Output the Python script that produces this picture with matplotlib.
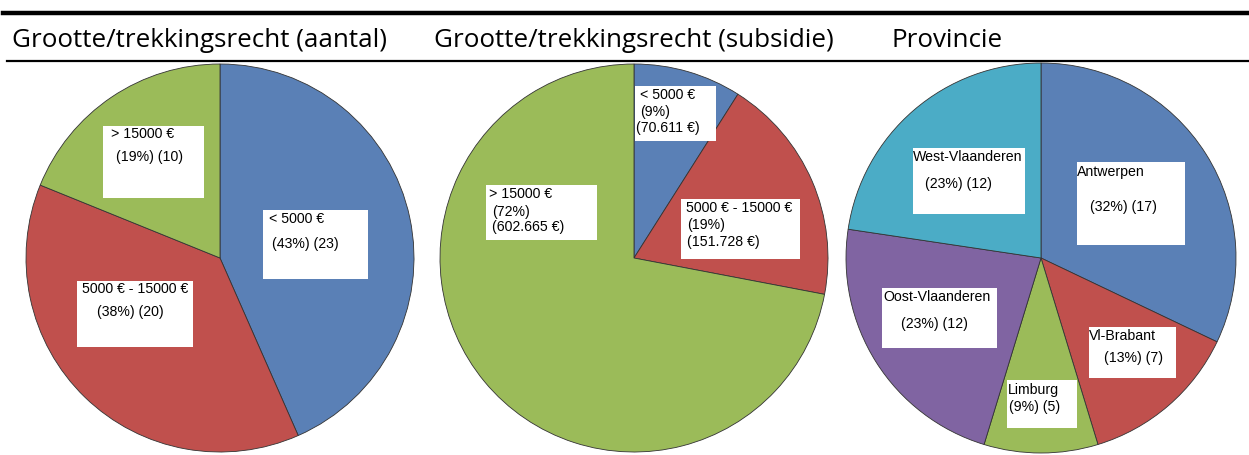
import matplotlib.pyplot as plt
from matplotlib.patches import Rectangle

W, H = 1249, 456

# data
size_cats = ["< 5000 €", "5000 € - 15000 €", "> 15000 €"]
size_counts = [23, 20, 10]
size_pct = [43, 38, 19]

subs_amounts = [70611, 151728, 602665]
subs_pct = [9, 19, 72]

prov_cats = ["Antwerpen", "Vl-Brabant", "Limburg", "Oost-Vlaanderen", "West-Vlaanderen"]
prov_counts = [17, 7, 5, 12, 12]
prov_pct = [32, 13, 9, 23, 23]

headers = ["Grootte/trekkingsrecht (aantal)", "Grootte/trekkingsrecht (subsidie)", "Provincie"]

blue, red, green, purple, cyan = "#5A80B6", "#C0504D", "#9BBB59", "#8064A2", "#4BACC6"

fig = plt.figure(figsize=(W / 100, H / 100), dpi=100)


def fx(x):
    return x / W


def fy(y):
    return 1 - y / H


def pie_axes(cx, cy, r):
    ax = fig.add_axes([fx(cx - r), fy(cy + r), 2 * r / W, 2 * r / H])
    ax.axis("off")
    return ax


def fix_limits(ax):
    ax.set_xlim(-1, 1)
    ax.set_ylim(-1, 1)
    ax.set_aspect("equal")


def label(box, lines):
    x0, y0, x1, y1 = box
    fig.patches.append(Rectangle((fx(x0), fy(y1)), (x1 - x0) / W, (y1 - y0) / H,
                                 transform=fig.transFigure, facecolor="white",
                                 edgecolor="none", zorder=5))
    for x, y, s in lines:
        fig.text(fx(x), fy(y), s, ha="left", va="center", fontsize=10.2,
                 family="Liberation Sans", zorder=6)


def euro(v):
    return f"{v:,}".replace(",", ".") + " €"


wedge = dict(edgecolor="#333333", linewidth=0.6)

# header lines
fig.add_artist(plt.Line2D([fx(3), 1], [fy(13.5), fy(13.5)], color="black", lw=3.2))
fig.add_artist(plt.Line2D([fx(7), 1], [fy(62), fy(62)], color="black", lw=1.6))
r = fig.canvas.get_renderer()
hdr = []
for x, t in zip([12, 434, 892], headers):
    hdr.append(fig.text(fx(x), fy(47), t, ha="left", va="baseline", fontsize=18,
                        family="Open Sans"))
# scale the header size so the first one spans ~374 px like the reference
wd = hdr[0].get_window_extent(renderer=r).width
for h in hdr:
    h.set_fontsize(18 * 374 / wd)

# pie 1
ax1 = pie_axes(220, 259, 194)
ax1.pie(size_counts, colors=[blue, red, green], startangle=90, counterclock=False,
        radius=1, wedgeprops=wedge)
fix_limits(ax1)
c = size_cats
p = [f"({a}%) ({b})" for a, b in zip(size_pct, size_counts)]
label((103, 127, 204, 199), [(111, 134, c[2]), (116, 157, p[2])])
label((263, 211, 368, 280), [(269, 219, c[0]), (272, 244, p[0])])
label((77, 282, 193, 348), [(82, 289, c[1]), (97, 312, p[1])])

# pie 2 (wedges follow the printed percentages)
ax2 = pie_axes(634, 259, 194)
ax2.pie(subs_pct, colors=[blue, red, green], startangle=90, counterclock=False,
        radius=1, wedgeprops=wedge)
fix_limits(ax2)
label((635, 87, 716, 142), [(640, 95, c[0]), (640, 112, f"({subs_pct[0]}%)"),
                            (636, 128, f"({euro(subs_amounts[0])})")])
label((681, 200, 800, 260), [(686, 208, c[1]), (687, 225, f"({subs_pct[1]}%)"),
                             (687, 242, f"({euro(subs_amounts[1])})")])
label((486, 186, 597, 241), [(489, 194, c[2]), (492, 212, f"({subs_pct[2]}%)"),
                             (492, 227, f"({euro(subs_amounts[2])})")])

# pie 3
ax3 = pie_axes(1041, 259, 195)
ax3.pie(prov_counts, colors=[blue, red, green, purple, cyan], startangle=90,
        counterclock=False, radius=1, wedgeprops=wedge)
fix_limits(ax3)
q = [f"({a}%) ({b})" for a, b in zip(prov_pct, prov_counts)]
label((1077, 163, 1185, 246), [(1077, 172, prov_cats[0]), (1090, 207, q[0])])
label((1089, 328, 1176, 379), [(1089, 336, prov_cats[1]), (1104, 358, q[1])])
label((1007, 381, 1077, 429), [(1008, 390, prov_cats[2]), (1009, 407, q[2])])
label((882, 289, 997, 349), [(883, 297, prov_cats[3]), (901, 324, q[3])])
label((913, 149, 1025, 215), [(913, 157, prov_cats[4]), (925, 184, q[4])])

fig.savefig("out.png", dpi=100)
